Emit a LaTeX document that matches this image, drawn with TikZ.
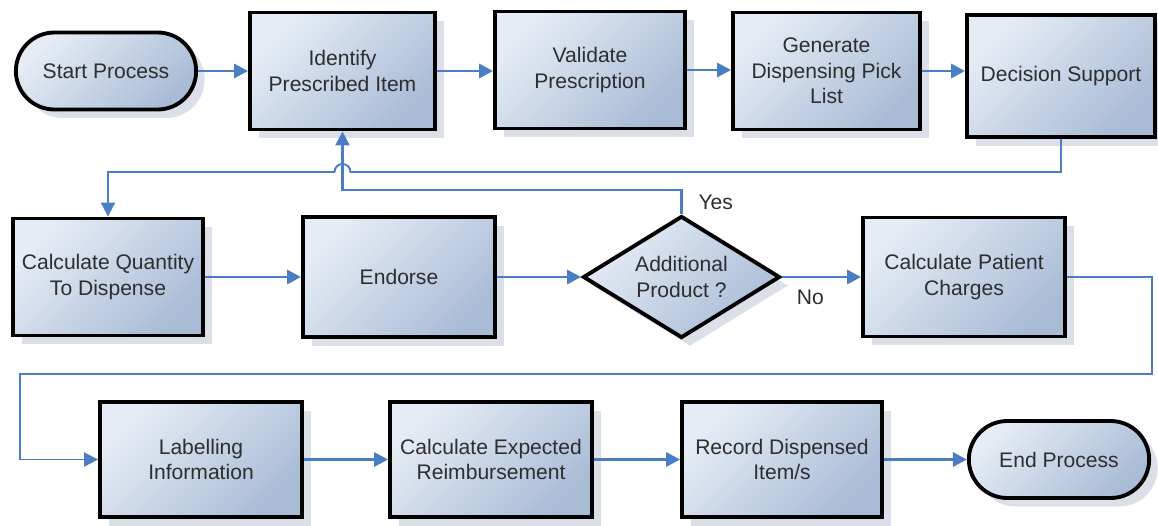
\documentclass[tikz,border=0pt]{standalone}
\usepackage{fontspec}
\setmainfont{Liberation Sans}
\usetikzlibrary{shapes.geometric,shapes.misc,shadows,arrows.meta}
\definecolor{boxtop}{HTML}{E6ECF5}
\definecolor{boxbot}{HTML}{A9BCD6}
\definecolor{flowblue}{HTML}{4A7DC3}
\definecolor{shadowgray}{HTML}{DADFE8}
\definecolor{textgray}{HTML}{2E2E2E}

\begin{document}
\begin{tikzpicture}[font=\fontsize{12}{14.5}\selectfont,
 base/.style={draw=black,line width=2.2pt,text=textgray,align=center,
  top color=boxtop,bottom color=boxbot,shading angle=45,
  drop shadow={shadow xshift=0.17cm,shadow yshift=-0.17cm,fill=shadowgray,opacity=1}},
 proc box/.style={base,rectangle,minimum width=3.8cm,minimum height=2.34cm,inner sep=2pt},
 term/.style={base,rounded rectangle,minimum width=3.84cm,minimum height=1.54cm},
 decide/.style={base,diamond,aspect=1.6,inner sep=0pt,minimum width=3.94cm,minimum height=2.44cm},
 flow line/.style={flowblue,line width=1.7pt,-{Triangle[length=8pt,width=8pt]}},
 route line/.style={flowblue,line width=1.1pt,-{Triangle[length=8pt,width=8pt]}},
 yes line/.style={flowblue,line width=1.3pt,-{Triangle[length=8pt,width=8pt]}}]
 \useasboundingbox (0,0) rectangle (23.16,10.5);
 \node[term] (start) at (2.12,9.08) {Start Process};
 \node[proc box,minimum width=3.7cm] (ident) at (6.85,9.08) {Identify\\Prescribed Item};
 \node[proc box] (valid) at (11.8,9.1) {Validate\\Prescription};
 \node[proc box,minimum width=3.74cm] (pick) at (16.53,9.08) {Generate\\Dispensing Pick\\List};
 \node[proc box,minimum width=3.76cm,minimum height=2.44cm] (decsup) at (21.22,8.98) {Decision Support};
 \node[proc box] (qty) at (2.16,4.96) {Calculate Quantity\\To Dispense};
 \node[proc box,minimum width=3.84cm,minimum height=2.4cm] (endorse) at (7.98,4.96) {Endorse};
 \node[decide] (addprod) at (13.63,4.96) {Additional\\Product ?};
 \node[proc box,minimum width=4.04cm,minimum height=2.38cm] (charges) at (19.28,4.96) {Calculate Patient\\Charges};
 \node[proc box,minimum width=4.04cm,minimum height=2.3cm] (label) at (4.02,1.31) {Labelling\\Information};
 \node[proc box,minimum width=4.04cm,minimum height=2.3cm] (reimb) at (9.82,1.31) {Calculate Expected\\Reimbursement};
 \node[proc box,minimum width=4cm,minimum height=2.3cm] (record) at (15.64,1.31) {Record Dispensed\\Item/s};
 \node[term] (endp) at (21.18,1.31) {End Process};
 \foreach \a/\b in {start/ident,ident/valid,valid/pick,pick/decsup}
  \draw[flow line] (\a.east) -- (\a.east -| \b.west);
 \foreach \a/\b in {qty/endorse,endorse/addprod,label/reimb,reimb/record,record/endp}
  \draw[flow line] (\a) -- (\b);
 \draw[flow line] (addprod) -- node[pos=0.36,below=0.12cm,text=textgray]{No} (charges);
 \draw[yes line] (addprod.north) -- ++(0,0.48) node[midway,right=0.2cm,text=textgray]{Yes} -| (ident.south);
 \coordinate (hop) at (ident.south |- 0,7.06);
 \draw[route line] (decsup.south) |- ([xshift=0.16cm]hop) arc[start angle=0,end angle=180,radius=0.16cm] -| (qty.north);
 \coordinate (wrap r) at (23.04,3.02);
 \coordinate (wrap l) at (0.4,3.02);
 \draw[route line] (charges.east) -| (wrap r) -- (wrap l) |- (label.west);
\end{tikzpicture}
\end{document}
